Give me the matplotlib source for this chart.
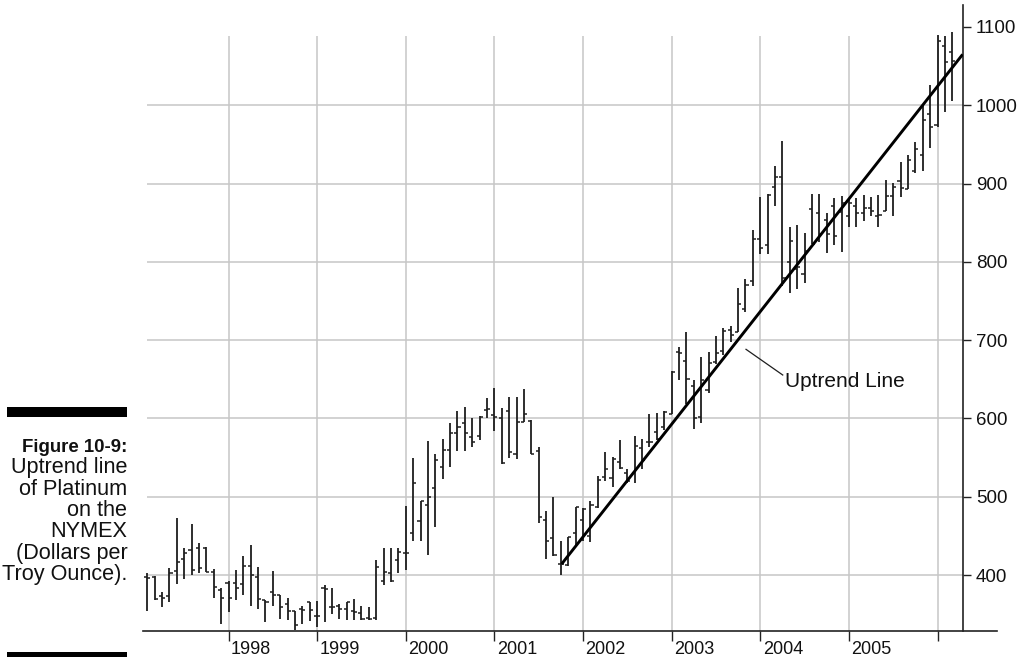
import matplotlib
matplotlib.use("Agg")
import matplotlib.pyplot as plt
from matplotlib import font_manager as fm
from matplotlib.transforms import ScaledTranslation
from matplotlib.patches import Rectangle
import numpy as np

plt.rcParams['font.family'] = ['Liberation Sans', 'DejaVu Sans']

# ---------------- data (monthly OHLC, Feb 1997 .. Mar 2006) ----------------
opens = [398, 397, 373, 373, 405, 420, 432, 435, 434, 404, 381, 390,
         390, 388, 411, 398, 368, 378, 374, 363, 354, 356, 366, 348,
         383, 359, 360, 356, 354, 351, 345, 345, 393, 403, 419, 428,
         454, 469, 490, 511, 538, 560, 582, 594, 576, 578, 611, 604,
         600, 609, 554, 596, 597, 559, 470, 447, 414, 413, 454, 470,
         450, 487, 525, 524, 544, 530, 530, 562, 570, 583, 589, 606,
         685, 673, 641, 602, 636, 672, 686, 713, 711, 740, 775, 829,
         822, 896, 909, 800, 791, 784, 867, 862, 854, 871, 864, 859,
         871, 862, 869, 859, 865, 884, 903, 893, 916, 937, 989, 975,
         1076, 1068]
highs = [403, 399, 378, 409, 473, 434, 465, 441, 436, 408, 384, 393,
         406, 424, 439, 410, 368, 405, 375, 371, 354, 361, 366, 367,
         387, 383, 363, 366, 370, 361, 359, 419, 435, 435, 434, 488,
         550, 495, 571, 555, 574, 594, 610, 614, 601, 603, 626, 639,
         613, 628, 628, 638, 598, 564, 482, 500, 443, 449, 487, 486,
         495, 526, 557, 551, 572, 535, 578, 574, 606, 607, 610, 660,
         691, 710, 649, 679, 685, 705, 715, 718, 767, 778, 841, 883,
         887, 922, 955, 845, 847, 837, 887, 887, 863, 881, 884, 879,
         881, 886, 883, 886, 905, 901, 927, 937, 953, 1000, 1026, 1090,
         1089, 1093]
lows = [354, 368, 359, 366, 388, 395, 400, 402, 404, 371, 338, 353,
        368, 374, 361, 357, 340, 360, 344, 342, 330, 337, 341, 333,
        340, 350, 344, 343, 342, 342, 342, 342, 387, 391, 402, 406,
        444, 444, 425, 461, 523, 538, 559, 559, 563, 572, 601, 584,
        542, 550, 548, 596, 555, 467, 421, 424, 400, 412, 439, 443,
        442, 486, 520, 512, 536, 518, 518, 535, 563, 572, 585, 606,
        649, 619, 587, 594, 632, 670, 681, 698, 711, 736, 769, 810,
        810, 871, 769, 760, 765, 773, 823, 825, 811, 821, 812, 845,
        845, 852, 858, 845, 865, 858, 883, 893, 913, 916, 946, 972,
        992, 1006]
closes = [396, 369, 371, 403, 417, 428, 407, 409, 404, 385, 371, 371,
          384, 411, 400, 369, 366, 374, 359, 354, 336, 355, 355, 348,
          382, 359, 356, 366, 353, 344, 344, 410, 404, 392, 430, 428,
          518, 495, 500, 547, 560, 582, 589, 581, 570, 602, 612, 602,
          543, 557, 596, 606, 555, 474, 443, 425, 414, 448, 487, 484,
          489, 521, 535, 548, 537, 520, 565, 547, 570, 574, 608, 659,
          684, 650, 601, 649, 671, 683, 712, 707, 746, 770, 829, 818,
          886, 909, 780, 827, 793, 814, 823, 836, 836, 833, 875, 875,
          863, 869, 865, 860, 884, 896, 894, 930, 944, 981, 972, 1082,
          1055, 1057]

years = ['1998', '1999', '2000', '2001', '2002', '2003', '2004', '2005', '']
year_start_month = [11, 23, 35, 47, 59, 71, 83, 95, 107]   # bar index of each January
price_ticks = [400, 500, 600, 700, 800, 900, 1000, 1100]
grid_prices = [400, 500, 600, 700, 800, 900, 1000]

# uptrend line anchors (bar index, price)
trend_x = [56.1, 110.4]
trend_y = [414, 1065]

caption_bold = "Figure 10-9:"
caption_lines = ["Uptrend line", "of Platinum", "on the", "NYMEX",
                 "(Dollars per", "Troy Ounce)."]

# ---------------- figure ----------------
W, H = 1022, 657
fig = plt.figure(figsize=(W / 100, H / 100), dpi=100)
fig.patch.set_facecolor('white')

ax_l, ax_r, ax_t, ax_b = 143.3, 962.7, 5.0, 630.7
ax = fig.add_axes([ax_l / W, (H - ax_b) / H, (ax_r - ax_l) / W, (ax_b - ax_t) / H])
xmin, xmax = -0.54, 110.41
ymin, ymax = 328.9, 1128.1
ax.set_xlim(xmin, xmax)
ax.set_ylim(ymin, ymax)

for s in ['left', 'top', 'bottom']:
    ax.spines[s].set_visible(False)
ax.spines['right'].set_color('#222222')
ax.spines['right'].set_linewidth(1.2)
# bottom axis line extends past the right spine
ax.axhline(ymin, xmin=0, xmax=(997.3 - ax_l) / (ax_r - ax_l), color='#222222',
           lw=1.2, clip_on=False, zorder=5)

grid_c = '#c6c6c6'
ax.hlines(grid_prices, 0.0, xmax, color=grid_c, lw=1.1, zorder=0)
ax.vlines(year_start_month, ymin, 1088.5, color=grid_c, lw=1.1, zorder=0)

idx = np.arange(len(opens))
bar_c = '#1e1e1e'
ax.vlines(idx, lows, highs, color=bar_c, lw=1.3, zorder=3)
ax.hlines(opens, idx - 0.42, idx, color=bar_c, lw=1.1, zorder=3)
ax.hlines(closes, idx, idx + 0.42, color=bar_c, lw=1.1, zorder=3)

ax.plot(trend_x, trend_y, color='black', lw=2.1, solid_capstyle='butt', zorder=4)

# annotation
ax.plot([81.07, 86.04], [688.3, 655.5], color='#1e1e1e', lw=0.9, zorder=4)
ax.text(86.35, 640.5, "Uptrend Line", fontsize=15, va='baseline', ha='left',
        color='#111111')

# y ticks on right
ax.yaxis.tick_right()
ax.set_yticks(price_ticks)
ax.set_yticklabels([str(p) for p in price_ticks])
ax.tick_params(axis='y', direction='out', length=5.4, width=1.0, color='#222222',
               pad=4, labelsize=13.5, labelcolor='#111111')

# x ticks at year starts
ax.set_xticks(year_start_month)
ax.set_xticklabels(years)
ax.tick_params(axis='x', direction='out', length=7.2, width=1.0, color='#222222',
               pad=0.3, labelsize=13, labelcolor='#111111')
offset = ScaledTranslation(2.5 / 100, 0, fig.dpi_scale_trans)
for lab in ax.get_xticklabels():
    lab.set_horizontalalignment('left')
    lab.set_transform(lab.get_transform() + offset)

# ---------------- caption ----------------
try:
    fm.findfont(fm.FontProperties(family='Liberation Sans Narrow', weight='bold'),
                fallback_to_default=False)
    bold_family, bold_size = ['Liberation Sans Narrow', 'Liberation Sans'], 15.8
except Exception:
    bold_family, bold_size = ['Liberation Sans', 'DejaVu Sans'], 13.4

cap_x = 127.3 / W
fig.text(cap_x, (H - 451.7) / H, caption_bold, ha='right', va='baseline',
         fontsize=bold_size, fontweight='bold', family=bold_family, color='#111111')
base = 473.3
for k, line in enumerate(caption_lines):
    fig.text(cap_x, (H - (base + 21.35 * k)) / H, line, ha='right', va='baseline',
             fontsize=15.6, color='#111111')

fig.add_artist(Rectangle((7.3 / W, (H - 417.3) / H), 120 / W, 10 / H,
                         transform=fig.transFigure, color='black', lw=0))
fig.add_artist(Rectangle((7.3 / W, 0), 120 / W, 4.8 / H,
                         transform=fig.transFigure, color='black', lw=0))

fig.savefig('out.png', dpi=100, facecolor='white')
